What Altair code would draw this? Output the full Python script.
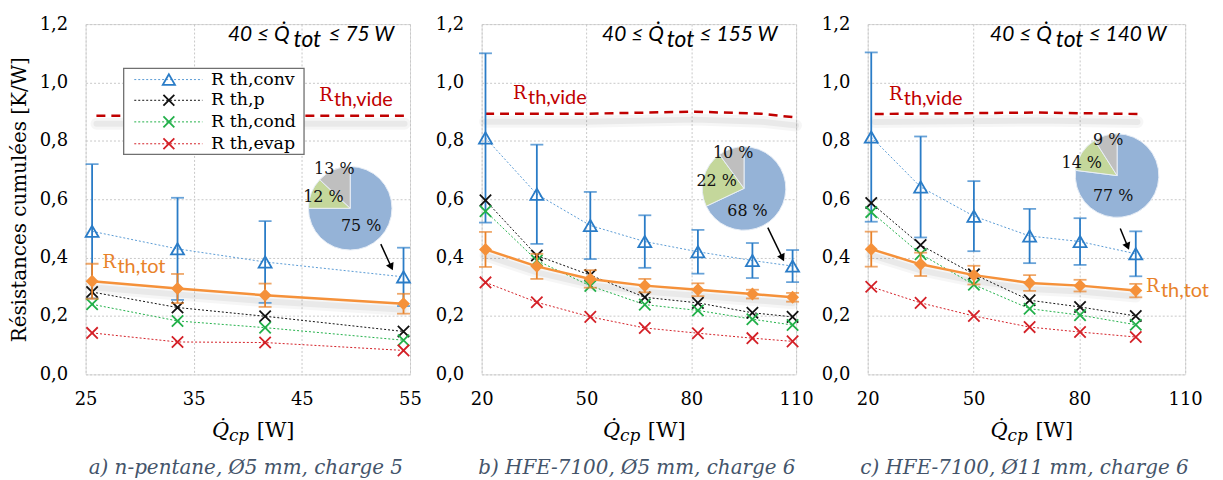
import altair as alt
import pandas as pd

SERIF = "DejaVu Serif"
SANS = "Lato"

BLUE = "#2A7CC7"
BLUE_LINE = "#5B9BD5"
BLACK = "#111111"
GREEN = "#22B04A"
RED = "#D42027"
ORANGE = "#F5913A"
ORANGE_DARK = "#E8822A"
VIDE_RED = "#C00000"
CAPTION = "#44546A"

PIE_PARTS = ["conv", "cond", "evap"]
PIE_COLORS = ["#95B3D7", "#C4D79B", "#BFBFBF"]

# ---------------- a) n-pentane, 5 mm, charge 5 ----------------
A_Q = [25.6, 33.5, 41.6, 54.4]
A_CONV = [0.490, 0.430, 0.385, 0.334]
A_CONV_E = [0.230, 0.175, 0.140, 0.100]
A_P = [0.282, 0.229, 0.199, 0.147]
A_COND = [0.240, 0.183, 0.160, 0.117]
A_EVAP = [0.142, 0.111, 0.109, 0.082]
A_TOT = [0.319, 0.294, 0.271, 0.242]
A_TOT_E = [0.060, 0.050, 0.040, 0.034]
A_VIDE_Q = [26.0, 54.5]
A_VIDE = [0.886, 0.886]
A_PIE = [75, 12, 13]
A_PIE_LABELS = ["75 %", "12 %", "13 %"]

# ---------------- b) HFE-7100, 5 mm, charge 6 ----------------
B_Q = [21.1, 35.8, 51.1, 66.7, 81.9, 97.5, 109.0]
B_CONV = [0.810, 0.617, 0.510, 0.455, 0.420, 0.390, 0.371]
B_CONV_E = [0.290, 0.170, 0.115, 0.090, 0.075, 0.060, 0.055]
B_P = [0.596, 0.407, 0.340, 0.264, 0.245, 0.211, 0.197]
B_COND = [0.559, 0.390, 0.303, 0.239, 0.219, 0.189, 0.169]
B_EVAP = [0.315, 0.247, 0.197, 0.159, 0.141, 0.124, 0.113]
B_TOT = [0.428, 0.370, 0.327, 0.304, 0.290, 0.275, 0.264]
B_TOT_E = [0.060, 0.043, 0.030, 0.023, 0.022, 0.015, 0.015]
B_VIDE_Q = [21.0, 50.0, 81.0, 100.0, 110.0]
B_VIDE = [0.893, 0.893, 0.900, 0.893, 0.880]
B_PIE = [68, 22, 10]
B_PIE_LABELS = ["68 %", "22 %", "10 %"]

# ---------------- c) HFE-7100, 11 mm, charge 6 ----------------
C_Q = [21.0, 35.0, 50.1, 65.9, 80.2, 96.0]
C_CONV = [0.813, 0.642, 0.542, 0.474, 0.455, 0.413]
C_CONV_E = [0.290, 0.173, 0.120, 0.093, 0.080, 0.077]
C_P = [0.587, 0.443, 0.343, 0.254, 0.231, 0.200]
C_COND = [0.556, 0.412, 0.307, 0.225, 0.203, 0.170]
C_EVAP = [0.300, 0.245, 0.200, 0.162, 0.145, 0.128]
C_TOT = [0.429, 0.377, 0.340, 0.313, 0.304, 0.287]
C_TOT_E = [0.060, 0.040, 0.032, 0.027, 0.020, 0.023]
C_VIDE_Q = [22.0, 68.0, 96.5]
C_VIDE = [0.892, 0.897, 0.892]
C_PIE = [77, 14, 9]
C_PIE_LABELS = ["77 %", "14 %", "9 %"]

Y_TICKS = [0.0, 0.2, 0.4, 0.6, 0.8, 1.0, 1.2]
LEGEND_NAMES = ["R th,conv", "R th,p", "R th,cond", "R th,evap"]

H = 352

panels = [
    dict(Q=A_Q, conv=A_CONV, conv_e=A_CONV_E, p=A_P, cond=A_COND, evap=A_EVAP,
         tot=A_TOT, tot_e=A_TOT_E, vq=A_VIDE_Q, vide=A_VIDE, pie=A_PIE, pie_labels=A_PIE_LABELS,
         xdom=[25, 55], xticks=[25, 35, 45, 55], w=326, qmax="75",
         ann_dx=[-183, -117, -82],
         pie_xy=(49.47, 0.569), pie_off=[(11, 18), (-27, -11), (-16, -39)],
         arrow=(52.3, 0.446, 53.27, 0.368), arrow_angle=155,
         vide_lab=(46.6, 0.936), tot_lab=(26.56, 0.363),
         ytitle="Résistances cumulées [K/W]", legend=True,
         caption="a) n-pentane, Ø5 mm, charge 5"),
    dict(Q=B_Q, conv=B_CONV, conv_e=B_CONV_E, p=B_P, cond=B_COND, evap=B_EVAP,
         tot=B_TOT, tot_e=B_TOT_E, vq=B_VIDE_Q, vide=B_VIDE, pie=B_PIE, pie_labels=B_PIE_LABELS,
         xdom=[20, 110], xticks=[20, 50, 80, 110], w=316, qmax="155",
         ann_dx=[-195, -130, -97],
         pie_xy=(95.1, 0.637), pie_off=[(3.5, 23), (-27.5, -7), (-11, -36)],
         arrow=(101.9, 0.5025, 106.1, 0.399), arrow_angle=154,
         vide_lab=(29.0, 0.943), tot_lab=None,
         ytitle=None, legend=False,
         caption="b) HFE-7100, Ø5 mm, charge 6"),
    dict(Q=C_Q, conv=C_CONV, conv_e=C_CONV_E, p=C_P, cond=C_COND, evap=C_EVAP,
         tot=C_TOT, tot_e=C_TOT_E, vq=C_VIDE_Q, vide=C_VIDE, pie=C_PIE, pie_labels=C_PIE_LABELS,
         xdom=[20, 110], xticks=[20, 50, 80, 110], w=319, qmax="140",
         ann_dx=[-196, -130, -97],
         pie_xy=(90.7, 0.681), pie_off=[(-4, 21), (-35.5, -13), (-9, -36)],
         arrow=(91.6, 0.50, 93.7, 0.438), arrow_angle=158,
         vide_lab=(26.0, 0.939), tot_lab=(98.9, 0.2815),
         ytitle=None, legend=False,
         caption="c) HFE-7100, Ø11 mm, charge 6"),
]

XMARK = "M-1,-1L1,1M-1,1L1,-1"


def make_panel(c):
    W = c["w"]
    xs = alt.Scale(domain=c["xdom"], nice=False, zero=False)
    ys = alt.Scale(domain=[0, 1.2], nice=False, zero=True)
    xax = alt.Axis(values=c["xticks"], title=None, format="d", grid=True,
                   gridColor="#C8C8C8", gridDash=[2, 2], gridWidth=1, ticks=False,
                   domain=False, labelFont=SERIF, labelFontSize=18, labelColor="#000",
                   labelPadding=16, labelFlush=False, labelOverlap=False)
    yargs = dict(values=Y_TICKS, grid=True, gridColor="#C8C8C8", gridDash=[2, 2],
                 gridWidth=1, ticks=False, domain=False, labelFont=SERIF,
                 labelFontSize=18, labelColor="#000", labelPadding=18,
                 labelExpr="replace(format(datum.value, '.1f'), '.', ',')")
    if c["ytitle"]:
        yax = alt.Axis(title=c["ytitle"], titleFont=SERIF, titleFontSize=20,
                       titleFontWeight="normal", titleColor="#000", titlePadding=10, **yargs)
    else:
        yax = alt.Axis(title=None, **yargs)

    def X(f):
        return alt.X(f, type="quantitative", scale=xs, axis=xax)

    def Y(f):
        return alt.Y(f, type="quantitative", scale=ys, axis=yax)

    df = pd.DataFrame({"Q": c["Q"], "conv": c["conv"], "conv_e": c["conv_e"],
                       "p": c["p"], "cond": c["cond"], "evap": c["evap"],
                       "tot": c["tot"], "tot_e": c["tot_e"]})
    vide = pd.DataFrame({"Q": c["vq"], "R": c["vide"]})
    base = alt.Chart(df)

    layers = []
    # soft shadows
    for sw, op in [(12, 0.035), (6, 0.05)]:
        layers.append(alt.Chart(vide).mark_line(color="#000", opacity=op, strokeWidth=sw,
                                                yOffset=8, strokeCap="round")
                      .encode(x=X("Q"), y=Y("R")))
        layers.append(base.mark_line(color="#000", opacity=op, strokeWidth=sw,
                                     yOffset=6, strokeCap="round")
                      .encode(x=X("Q"), y=Y("tot")))
    # R th,vide
    layers.append(alt.Chart(vide).mark_line(color=VIDE_RED, strokeDash=[9, 6], strokeWidth=2.5)
                  .encode(x=X("Q"), y=Y("R")))
    # dotted series lines
    for f, col in [("conv", BLUE_LINE), ("p", BLACK), ("cond", GREEN), ("evap", RED)]:
        layers.append(base.mark_line(color=col, strokeDash=[2, 2], strokeWidth=1)
                      .encode(x=X("Q"), y=Y(f)))
    # conv error bars + markers
    conv_err = base.transform_calculate(lo="datum.conv - datum.conv_e",
                                        hi="datum.conv + datum.conv_e")
    layers.append(conv_err.mark_rule(color=BLUE, strokeWidth=1.8)
                  .encode(x=X("Q"), y=Y("lo"), y2="hi:Q"))
    for f in ["lo", "hi"]:
        layers.append(conv_err.mark_tick(color=BLUE, size=13, thickness=1.8, orient="horizontal")
                      .encode(x=X("Q"), y=Y(f)))
    layers.append(base.mark_point(shape="triangle-up", filled=False, color=BLUE,
                                  strokeWidth=1.8, size=170, opacity=1)
                  .encode(x=X("Q"), y=Y("conv")))
    for f, col in [("p", BLACK), ("cond", GREEN), ("evap", RED)]:
        layers.append(base.mark_point(shape=XMARK, filled=False, color=col,
                                      strokeWidth=1.8, size=130, opacity=1)
                      .encode(x=X("Q"), y=Y(f)))
    # total resistance
    tot_err = base.transform_calculate(lo="datum.tot - datum.tot_e",
                                       hi="datum.tot + datum.tot_e")
    layers.append(tot_err.mark_rule(color=ORANGE_DARK, strokeWidth=1.8)
                  .encode(x=X("Q"), y=Y("lo"), y2="hi:Q"))
    for f in ["lo", "hi"]:
        layers.append(tot_err.mark_tick(color=ORANGE_DARK, size=13, thickness=1.8,
                                        orient="horizontal")
                      .encode(x=X("Q"), y=Y(f)))
    layers.append(base.mark_line(color=ORANGE, strokeWidth=2.5).encode(x=X("Q"), y=Y("tot")))
    layers.append(base.mark_point(shape="diamond", filled=True, color=ORANGE, size=170, opacity=1)
                  .encode(x=X("Q"), y=Y("tot")))

    def at(x, y, text, font, size, color, dx=0, dy=0, italic=False,
           align="left", baseline="alphabetic"):
        return (alt.Chart(pd.DataFrame({"x": [x], "y": [y]}))
                .mark_text(text=text, font=font, fontSize=size, color=color, dx=dx, dy=dy,
                           fontStyle="italic" if italic else "normal",
                           align=align, baseline=baseline)
                .encode(x=X("x"), y=Y("y")))

    def px(x, y, text, font, size, color, italic=False, align="left",
           baseline="alphabetic", weight="normal"):
        return (alt.Chart(pd.DataFrame({"v": [0]}))
                .mark_text(text=text, font=font, fontSize=size, color=color,
                           fontStyle="italic" if italic else "normal", fontWeight=weight,
                           align=align, baseline=baseline)
                .encode(x=alt.value(x), y=alt.value(y)))

    # top-right power range
    xr = c["xdom"][1]
    d1, d2, d3 = c["ann_dx"]
    layers.append(at(xr, 1.2, "40 ≤ Q̇", SANS, 21, "#000", dx=d1, dy=17, italic=True))
    layers.append(at(xr, 1.2, "tot", SANS, 23, "#000", dx=d2, dy=23, italic=True))
    layers.append(at(xr, 1.2, "≤ " + c["qmax"] + " W", SANS, 21, "#000", dx=d3, dy=17, italic=True))

    # labels of R th,vide and R th,tot
    vx, vy = c["vide_lab"]
    layers.append(at(vx, vy, "R", SERIF, 18, VIDE_RED))
    layers.append(at(vx, vy, "th,vide", SANS, 20, VIDE_RED, dx=15, dy=5))
    if c["tot_lab"]:
        tx, ty = c["tot_lab"]
        layers.append(at(tx, ty, "R", SERIF, 18, ORANGE_DARK))
        layers.append(at(tx, ty, "th,tot", SANS, 20, ORANGE_DARK, dx=15, dy=5))

    # legend (panel a)
    if c["legend"]:
        box = pd.DataFrame({"x": [28.52], "x2": [45.2], "y": [1.048], "y2": [0.754]})
        layers.append(alt.Chart(box).mark_rect(fill="white", stroke="#707070", strokeWidth=1.3)
                      .encode(x=X("x"), x2="x2:Q", y=Y("y"), y2="y2:Q"))
        rows_y = [1.010, 0.939, 0.865, 0.790]
        cols = [BLUE_LINE, BLACK, GREEN, RED]
        mcols = [BLUE, BLACK, GREEN, RED]
        for i in range(4):
            seg = pd.DataFrame({"x": [29.5], "x2": [35.8], "y": [rows_y[i]]})
            layers.append(alt.Chart(seg).mark_rule(color=cols[i], strokeDash=[2, 2], strokeWidth=1)
                          .encode(x=X("x"), x2="x2:Q", y=Y("y")))
            shape = "triangle-up" if i == 0 else XMARK
            layers.append(alt.Chart(pd.DataFrame({"x": [32.7], "y": [rows_y[i]]}))
                          .mark_point(shape=shape, filled=False, color=mcols[i], strokeWidth=1.8,
                                      size=150 if i == 0 else 120, opacity=1)
                          .encode(x=X("x"), y=Y("y")))
            layers.append(at(36.6, rows_y[i], LEGEND_NAMES[i], SERIF, 17.5, "#000",
                             baseline="middle"))

    # pie of resistance shares
    cx, cy = c["pie_xy"]
    pie_df = pd.DataFrame({"part": PIE_PARTS, "share": c["pie"], "k": [0, 1, 2],
                           "x": [cx] * 3, "y": [cy] * 3})
    layers.append(alt.Chart(pie_df).mark_arc(outerRadius=42, stroke="#E8EEF6", strokeWidth=1)
                  .encode(x=X("x"), y=Y("y"),
                          theta=alt.Theta("share:Q", stack=True),
                          color=alt.Color("part:N", scale=alt.Scale(domain=PIE_PARTS,
                                                                   range=PIE_COLORS), legend=None),
                          order=alt.Order("k:Q")))
    for lab, (ox, oy) in zip(c["pie_labels"], c["pie_off"]):
        layers.append(at(cx, cy, lab, SERIF, 16, "#111", dx=ox, dy=oy,
                         align="center", baseline="middle"))

    # arrow
    ax0, ay0, ax1, ay1 = c["arrow"]
    adf = pd.DataFrame({"x": [ax0], "y": [ay0], "x2": [ax1], "y2": [ay1]})
    layers.append(alt.Chart(adf).mark_rule(color="#000", strokeWidth=1.5)
                  .encode(x=X("x"), y=Y("y"), x2="x2:Q", y2="y2:Q"))
    layers.append(alt.Chart(adf).mark_point(shape="triangle-up", filled=True, color="#000",
                                            size=70, angle=c["arrow_angle"], opacity=1)
                  .encode(x=X("x2"), y=Y("y2")))

    # x-axis title and caption
    mid = W / 2
    layers.append(px(mid - 36, H + 63, "Q̇", SERIF, 21, "#000", italic=True))
    layers.append(px(mid - 19, H + 67, "cp", SERIF, 17, "#000", italic=True))
    layers.append(px(mid + 9, H + 63, "[W]", SERIF, 21, "#000"))
    layers.append(px(mid - 2, H + 94, c["caption"], SERIF, 20, CAPTION, italic=True,
                     align="center", baseline="middle"))

    return alt.layer(*layers).properties(width=W, height=H)


chart = (alt.hconcat(*[make_panel(c) for c in panels], spacing=72, bounds="flush")
         .properties(padding={"left": 0, "top": 5, "right": 5, "bottom": 5})
         .configure_view(stroke="#A6A6A6", strokeWidth=1.5)
         .configure(background="white"))

chart.save("out.html", embed_options={"renderer": "svg", "actions": False})
